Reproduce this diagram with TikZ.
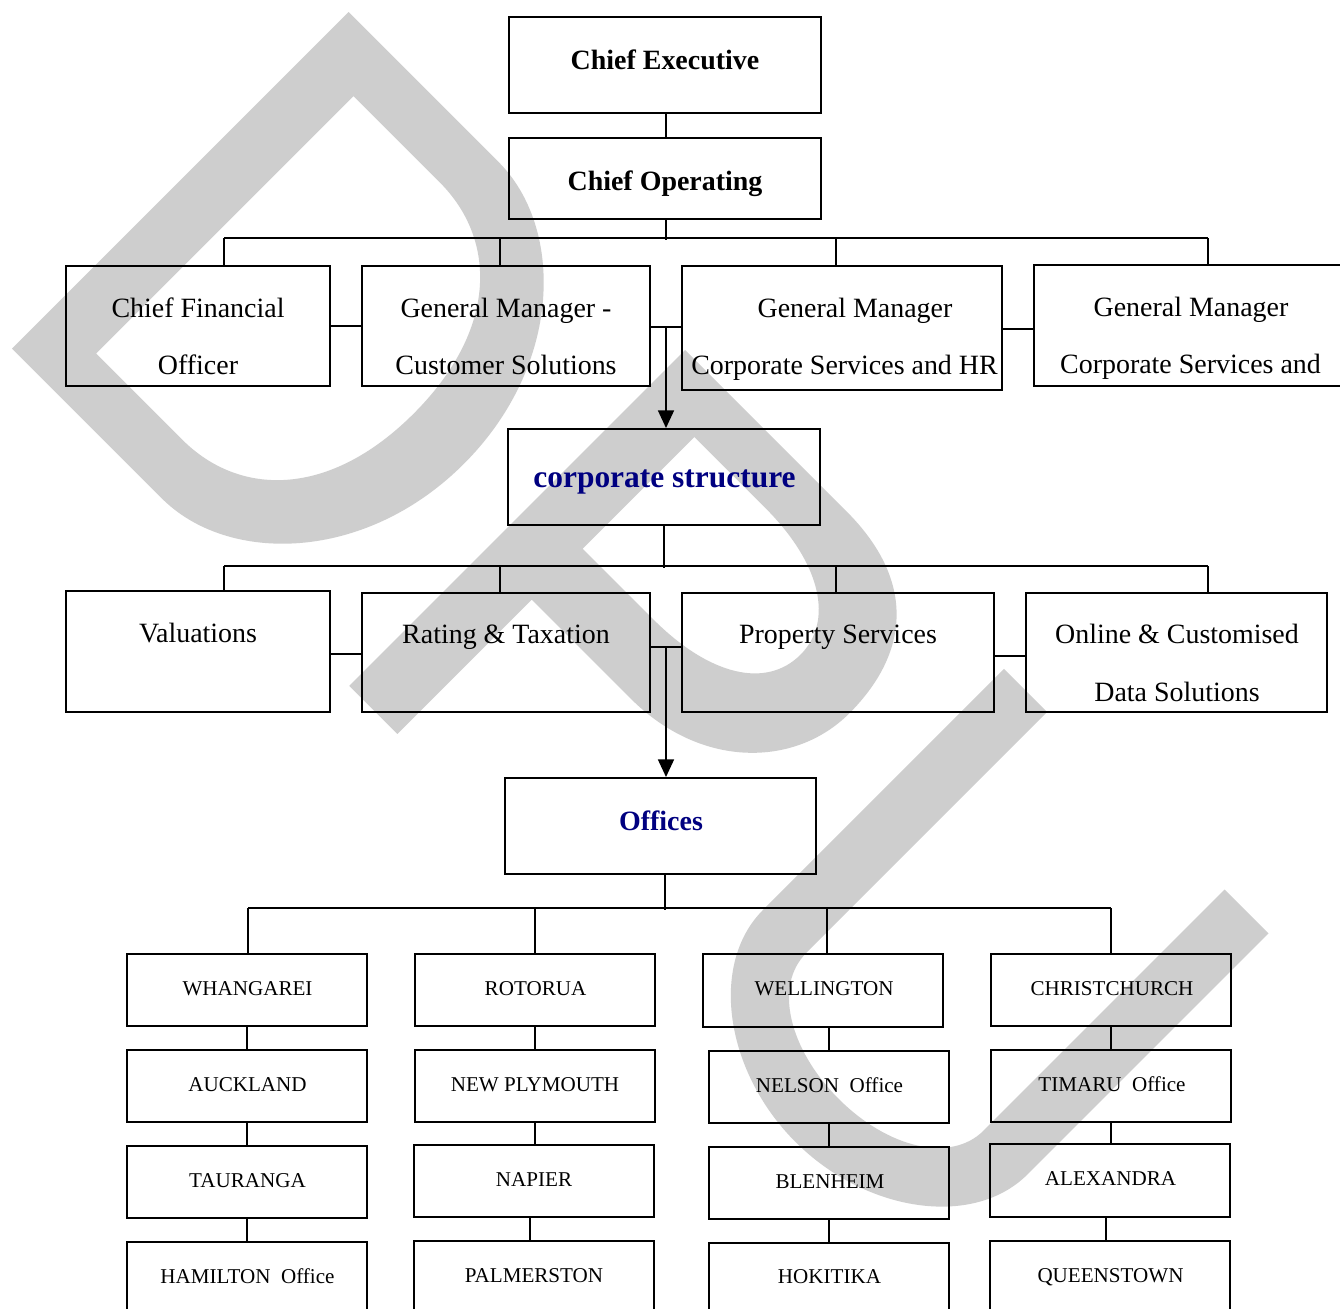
\documentclass[tikz,border=0pt]{standalone}
\usepackage{fontspec}
\setmainfont{Liberation Serif}
\usetikzlibrary{fit,arrows.meta}
\definecolor{wm}{RGB}{206,206,206}
\definecolor{navy}{RGB}{0,0,128}
\begin{document}
\begin{tikzpicture}[x=0.02cm,y=-0.02cm,
  box/.style={draw=black, line width=1.1pt, inner sep=0pt, rectangle},
  wire/.style={draw=black, line width=1.1pt},
  arr/.style={wire, -{Triangle[length=10pt,width=9pt]}},
  big/.style={font=\fontsize{15.9}{19}\selectfont, anchor=base, inner sep=0pt},
  bigb/.style={font=\fontsize{15.9}{19}\selectfont\bfseries, anchor=base, inner sep=0pt},
  head/.style={font=\fontsize{17.9}{21}\selectfont\bfseries, text=navy, anchor=base, inner sep=0pt},
  headsm/.style={font=\fontsize{15.9}{19}\selectfont\bfseries, text=navy, anchor=base, inner sep=0pt},
  city/.style={font=\fontsize{12}{14}\selectfont, anchor=base, inner sep=0pt},
]
\path[use as bounding box] (0,0) rectangle (1340,1309);
\clip (0,0) rectangle (1340,1309);
\fill[white] (0,0) rectangle (1340,1309);

% grey letters in the background, set along the diagonal
\begin{scope}[x={(0.014142cm,-0.014142cm)}, y={(0.014142cm,0.014142cm)}]
  \fill[wm, even odd rule]
    (255,-238) -- (255,238) -- (467,238) .. controls (560,238) and (656,140) .. (656,0)
    .. controls (656,-140) and (560,-238) .. (467,-238) -- cycle
    (318,-182) -- (318,182) -- (440,182) .. controls (520,182) and (585,120) .. (585,0)
    .. controls (585,-120) and (520,-182) .. (440,-182) -- cycle;
  \fill[wm, even odd rule]
    (732,-238) -- (732,237) -- (960,237) .. controls (1060,237) and (1105,180) .. (1105,96)
    .. controls (1105,20) and (1040,-48) .. (940,-48) -- (800,-48) -- (800,-238) -- cycle
    (800,24) -- (800,182) -- (900,182) .. controls (980,182) and (1029,150) .. (1029,103)
    .. controls (1029,55) and (980,24) .. (900,24) -- cycle;
  \fill[wm]
    (1183,237) -- (1183,-104) .. controls (1183,-180) and (1270,-245) .. (1370,-245)
    .. controls (1470,-245) and (1557,-180) .. (1557,-104) -- (1557,237) -- (1495,237)
    -- (1495,-104) .. controls (1495,-150) and (1440,-184) .. (1370,-184)
    .. controls (1300,-184) and (1244,-150) .. (1244,-104) -- (1244,237) -- cycle;
\end{scope}

% ---------- top level ----------
\node[box, fit={(509,17)(821,113)}] (ce) {};
\node[bigb] (tce) at (665,69) {Chief Executive};
\node[box, fit={(509,138)(821,219)}] (co) {};
\node[bigb] (tco) at (665,190) {Chief Operating};
\draw[wire] (ce.south -| 666,0) -- (co.north -| 666,0);

% ---------- managers ----------
\node[box, fit={(66,266)(330,386)}] (cfo) {};
\node[big] (tcfo1) at (198,317) {Chief Financial};
\node[big] (tcfo2) at (198,374) {Officer};
\node[box, fit={(362,266)(650,386)}] (gmcs) {};
\node[big] (tgmcs1) at (506,317) {General Manager -};
\node[big] (tgmcs2) at (506,374) {Customer Solutions};
\node[box, fit={(682,266)(1002,390)}] (gmhr) {};
\node[big] (tgmhr1) at (855,317) {General Manager};
\node[big] (tgmhr2) at (844.5,374) {Corporate Services and HR};
\node[box, fit={(1034,265)(1346,386)}] (gm4) {};
\node[big] (tgm41) at (1191,316) {General Manager};
\node[big] (tgm42) at (1190.5,373) {Corporate Services and};

\coordinate (b1) at (666,238);
\coordinate (b1l) at (224,238);
\coordinate (b1r) at (1208,238);
\coordinate (d12) at (500,238);
\coordinate (d13) at (836,238);
\draw[wire] (co.south -| b1) -- ([yshift=-1pt]b1);
\draw[wire] (b1l) -- (b1r);
\draw[wire] (b1l) -- (b1l |- cfo.north);
\draw[wire] (d12) -- (d12 |- gmcs.north);
\draw[wire] (d13) -- (d13 |- gmhr.north);
\draw[wire] (b1r) -- (b1r |- gm4.north);
\draw[wire] (cfo.east) -- (gmcs.west);
\coordinate (j1) at (666,327);
\draw[wire] (gmcs.east |- j1) -- (gmhr.west |- j1);
\coordinate (k1) at (0,329);
\draw[wire] (gmhr.east |- k1) -- (gm4.west |- k1);

% ---------- corporate structure ----------
\node[box, fit={(508,429)(820,525)}] (cs) {};
\node[head] (tcs) at (664.5,487) {corporate structure};
\draw[arr] (j1) -- (j1 |- cs.north);

% ---------- departments ----------
\node[box, fit={(66,591)(330,712)}] (val) {};
\node[big] (tval) at (198,642) {Valuations};
\node[box, fit={(362,593)(650,712)}] (rt) {};
\node[big] (trt) at (506,643) {Rating \& Taxation};
\node[box, fit={(682,593)(994,712)}] (prop) {};
\node[big] (tprop) at (838,643) {Property Services};
\node[box, fit={(1026,593)(1327,712)}] (onl) {};
\node[big] (tonl1) at (1177,643) {Online \& Customised};
\node[big] (tonl2) at (1177,701) {Data Solutions};

\coordinate (b2) at (664,566);
\coordinate (b2l) at (224,566);
\coordinate (b2r) at (1208,566);
\coordinate (d22) at (500,566);
\coordinate (d23) at (836,566);
\draw[wire] (cs.south -| b2) -- ([yshift=-1pt]b2);
\draw[wire] (b2l) -- (b2r);
\draw[wire] (b2l) -- (b2l |- val.north);
\draw[wire] (d22) -- (d22 |- rt.north);
\draw[wire] (d23) -- (d23 |- prop.north);
\draw[wire] (b2r) -- (b2r |- onl.north);
\coordinate (k2) at (0,654);
\draw[wire] (val.east |- k2) -- (rt.west |- k2);
\coordinate (j2) at (666,647);
\draw[wire] (rt.east |- j2) -- (prop.west |- j2);
\coordinate (k3) at (0,656);
\draw[wire] (prop.east |- k3) -- (onl.west |- k3);

% ---------- offices ----------
\node[box, fit={(505,778)(816,874)}] (off) {};
\node[headsm] (toff) at (661,830) {Offices};
\draw[arr] (j2) -- (j2 |- off.north);

\coordinate (b3) at (665,908);
\coordinate (b3l) at (248,908);
\coordinate (b3r) at (1111,908);
\coordinate (d32) at (535,908);
\coordinate (d33) at (827,908);
\draw[wire] (off.south -| b3) -- ([yshift=-1pt]b3);
\draw[wire] (b3l) -- (b3r);

% column 1
\node[box, fit={(127,954)(367,1026)}] (wha) {};
\node[city] (twha) at (247.5,995) {WHANGAREI};
\node[box, fit={(127,1050)(367,1122)}] (auc) {};
\node[city] (tauc) at (247.5,1091) {AUCKLAND};
\node[box, fit={(127,1146)(367,1218)}] (tau) {};
\node[city] (ttau) at (247.5,1187) {TAURANGA};
\node[box, fit={(127,1242)(367,1322)}] (ham) {};
\node[city] (tham) at (247.5,1283) {HAMILTON\ \ Office};

% column 2
\node[box, fit={(415,954)(655,1026)}] (rot) {};
\node[city] (trot) at (535.5,995) {ROTORUA};
\node[box, fit={(415,1050)(655,1122)}] (nply) {};
\node[city] (tnply) at (535,1091) {NEW PLYMOUTH};
\node[box, fit={(414,1145)(654,1217)}] (nap) {};
\node[city] (tnap) at (534,1186) {NAPIER};
\node[box, fit={(414,1241)(654,1322)}] (pal) {};
\node[city] (tpal) at (534,1282) {PALMERSTON};

% column 3
\node[box, fit={(703,954)(943,1027)}] (wel) {};
\node[city] (twel) at (824,995) {WELLINGTON};
\node[box, fit={(709,1051)(949,1123)}] (nel) {};
\node[city] (tnel) at (829.5,1092) {NELSON\ \ Office};
\node[box, fit={(709,1147)(949,1219)}] (ble) {};
\node[city] (tble) at (830,1188) {BLENHEIM};
\node[box, fit={(709,1243)(949,1322)}] (hok) {};
\node[city] (thok) at (829.5,1283) {HOKITIKA};

% column 4
\node[box, fit={(991,954)(1231,1026)}] (chc) {};
\node[city] (tchc) at (1112,995) {CHRISTCHURCH};
\node[box, fit={(991,1050)(1231,1122)}] (tim) {};
\node[city] (ttim) at (1112,1091) {TIMARU\ \ Office};
\node[box, fit={(990,1144)(1230,1217)}] (alx) {};
\node[city] (talx) at (1110.5,1185) {ALEXANDRA};
\node[box, fit={(990,1241)(1230,1322)}] (qtn) {};
\node[city] (tqtn) at (1110.5,1282) {QUEENSTOWN};

% drops from the office bus
\draw[wire] (b3l) -- (b3l |- wha.north);
\draw[wire] (d32) -- (d32 |- rot.north);
\draw[wire] (d33) -- (d33 |- wel.north);
\draw[wire] (b3r) -- (b3r |- chc.north);

% links inside each column
\draw[wire] (wha.south) -- (wha.south |- auc.north);
\draw[wire] (auc.south) -- (auc.south |- tau.north);
\draw[wire] (tau.south) -- (tau.south |- ham.north);
\draw[wire] (rot.south) -- (rot.south |- nply.north);
\draw[wire] (nply.south) -- (nply.south |- nap.north);
\draw[wire] (nap.south -| 530,0) -- (pal.north -| 530,0);
\draw[wire] (wel.south -| nel.north) -- (nel.north);
\draw[wire] (nel.south) -- (ble.north);
\draw[wire] (ble.south) -- (hok.north);
\draw[wire] (chc.south) -- (chc.south |- tim.north);
\draw[wire] (tim.south) -- (tim.south |- alx.north);
\draw[wire] (alx.south -| 1106,0) -- (qtn.north -| 1106,0);
\end{tikzpicture}
\end{document}
